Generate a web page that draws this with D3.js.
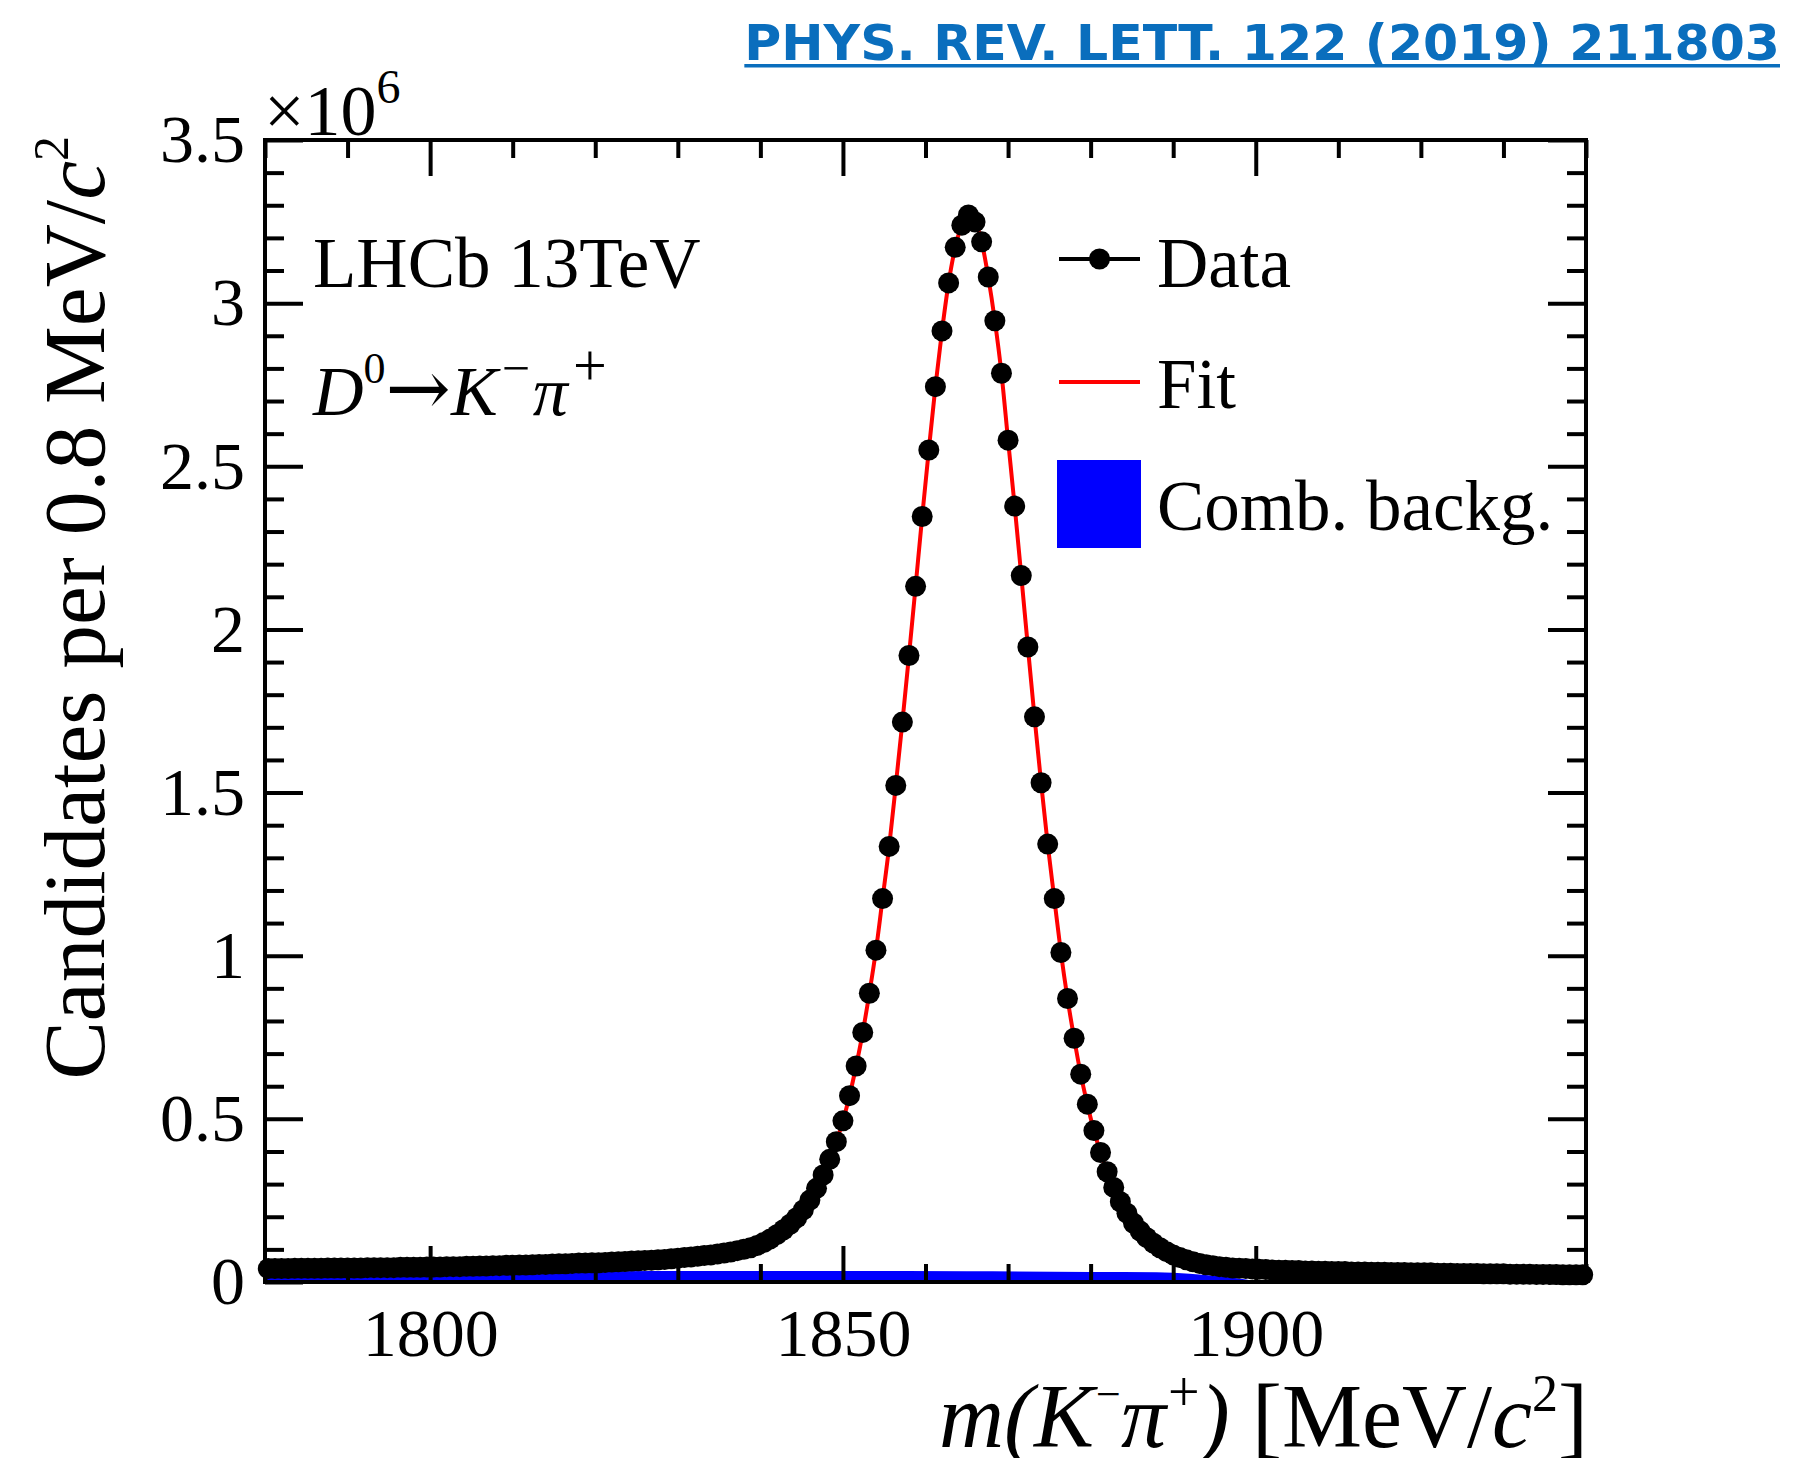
<!DOCTYPE html>
<html>
<head>
<meta charset="utf-8">
<script src="https://cdn.jsdelivr.net/npm/d3@7/dist/d3.min.js"></script>
<style>
  html, body { margin: 0; padding: 0; background: #ffffff; }
  svg { display: block; }
</style>
</head>
<body>
<svg id="chart" width="1803" height="1458"></svg>
<script>
// Histogram binning of m(K- pi+): 200 bins of 0.8 MeV/c^2 from 1780 to 1940
const massLow = 1780;
const massHigh = 1940;
const binWidth = 0.8;

// Candidates per bin, in units of 10^6
const dataCounts = [
  0.041,0.041,0.041,0.041,0.042,0.042,0.042,0.042,0.042,0.043,
  0.043,0.043,0.043,0.043,0.043,0.044,0.044,0.044,0.044,0.044,
  0.045,0.045,0.045,0.045,0.046,0.046,0.046,0.047,0.047,0.047,
  0.048,0.048,0.049,0.049,0.050,0.050,0.051,0.051,0.052,0.052,
  0.053,0.054,0.054,0.055,0.056,0.056,0.057,0.058,0.058,0.059,
  0.059,0.060,0.061,0.062,0.063,0.064,0.065,0.066,0.067,0.068,
  0.069,0.071,0.073,0.075,0.077,0.079,0.081,0.083,0.086,0.089,
  0.092,0.096,0.100,0.105,0.112,0.121,0.132,0.145,0.160,0.177,
  0.197,0.221,0.251,0.287,0.328,0.376,0.430,0.494,0.571,0.662,
  0.765,0.885,1.017,1.175,1.335,1.522,1.716,1.920,2.132,2.346,
  2.550,2.744,2.915,3.062,3.171,3.239,3.270,3.249,3.188,3.080,
  2.946,2.785,2.580,2.378,2.165,1.946,1.732,1.530,1.342,1.175,
  1.010,0.869,0.747,0.637,0.545,0.464,0.397,0.338,0.290,0.246,
  0.211,0.180,0.156,0.136,0.119,0.105,0.093,0.083,0.075,0.068,
  0.062,0.057,0.053,0.050,0.047,0.045,0.043,0.042,0.041,0.040,
  0.039,0.038,0.037,0.036,0.036,0.035,0.035,0.034,0.034,0.033,
  0.033,0.032,0.032,0.032,0.031,0.031,0.031,0.030,0.030,0.030,
  0.029,0.029,0.029,0.028,0.028,0.028,0.028,0.027,0.027,0.027,
  0.026,0.026,0.026,0.026,0.025,0.025,0.025,0.025,0.024,0.024,
  0.024,0.024,0.023,0.023,0.023,0.023,0.022,0.022,0.022,0.022
];

// Total fit model evaluated at the bin centres, in units of 10^6
const fitCounts = [
  0.041,0.041,0.041,0.041,0.042,0.042,0.042,0.042,0.042,0.043,
  0.043,0.043,0.043,0.043,0.043,0.044,0.044,0.044,0.044,0.044,
  0.045,0.045,0.045,0.045,0.046,0.046,0.046,0.047,0.047,0.047,
  0.048,0.048,0.049,0.049,0.050,0.050,0.051,0.051,0.052,0.052,
  0.053,0.054,0.054,0.055,0.056,0.056,0.057,0.058,0.058,0.059,
  0.059,0.060,0.061,0.062,0.063,0.064,0.065,0.066,0.067,0.068,
  0.069,0.071,0.073,0.075,0.077,0.079,0.081,0.083,0.086,0.089,
  0.092,0.096,0.100,0.105,0.112,0.121,0.132,0.145,0.160,0.177,
  0.197,0.221,0.251,0.287,0.328,0.376,0.430,0.494,0.571,0.662,
  0.765,0.885,1.017,1.175,1.335,1.522,1.716,1.920,2.132,2.346,
  2.550,2.744,2.915,3.062,3.171,3.239,3.268,3.250,3.188,3.080,
  2.946,2.785,2.580,2.378,2.165,1.946,1.732,1.530,1.342,1.175,
  1.010,0.869,0.747,0.637,0.545,0.464,0.397,0.338,0.290,0.246,
  0.211,0.180,0.156,0.136,0.119,0.105,0.093,0.083,0.075,0.068,
  0.062,0.057,0.053,0.050,0.047,0.045,0.043,0.042,0.041,0.040,
  0.039,0.038,0.037,0.036,0.036,0.035,0.035,0.034,0.034,0.033,
  0.033,0.032,0.032,0.032,0.031,0.031,0.031,0.030,0.030,0.030,
  0.029,0.029,0.029,0.028,0.028,0.028,0.028,0.027,0.027,0.027,
  0.026,0.026,0.026,0.026,0.025,0.025,0.025,0.025,0.024,0.024,
  0.024,0.024,0.023,0.023,0.023,0.023,0.022,0.022,0.022,0.022
];

// Combinatorial background component (units of 10^6 per bin)
const bkgMass   = [1780, 1800, 1820, 1835, 1850, 1865, 1880, 1888, 1892, 1895, 1897.5, 1899.3, 1900];
const bkgCounts = [0.030,0.031,0.033,0.034,0.034,0.033,0.031,0.030,0.025,0.019,0.012,0.005,0.000];

// Axis ticks
const xMajorTicks = [1800, 1850, 1900];
const xMinorTicks = [1780,1790,1810,1820,1830,1840,1860,1870,1880,1890,1910,1920,1930,1940];
const yMajorTicks = [0, 0.5, 1, 1.5, 2, 2.5, 3, 3.5];
const yMinorTicks = [0.1,0.2,0.3,0.4,0.6,0.7,0.8,0.9,1.1,1.2,1.3,1.4,1.6,1.7,1.8,1.9,
                     2.1,2.2,2.3,2.4,2.6,2.7,2.8,2.9,3.1,3.2,3.3,3.4];
const yTickLabels = ["0", "0.5", "1", "1.5", "2", "2.5", "3", "3.5"];
const xTickLabels = ["1800", "1850", "1900"];

const serif = "'Liberation Serif', 'Times New Roman', Times, serif";

const binCenters = dataCounts.map((_, i) => massLow + binWidth * (i + 0.5));
const dataPoints = dataCounts.map((v, i) => ({ m: binCenters[i], v }));
const fitPoints = fitCounts.map((v, i) => ({ m: binCenters[i], v }));
const bkgPoints = bkgMass.map((m, i) => ({ m, v: bkgCounts[i] }));

const plot = { left: 265, right: 1586, top: 140, bottom: 1282 };

const x = d3.scaleLinear().domain([massLow, massHigh]).range([plot.left, plot.right]);
const y = d3.scaleLinear().domain([0, 3.5]).range([plot.bottom, plot.top]);

const svg = d3.select("#chart");
svg.append("rect").attr("width", 1803).attr("height", 1458).attr("fill", "#ffffff");

// Combinatorial background
svg.append("path")
  .datum(bkgPoints)
  .attr("fill", "#0000ff")
  .attr("d", d3.area()
    .x(d => x(d.m))
    .y0(y(0))
    .y1(d => y(d.v))
    .curve(d3.curveMonotoneX));

// Fit curve
svg.append("path")
  .datum(fitPoints)
  .attr("fill", "none")
  .attr("stroke", "#ff0000")
  .attr("stroke-width", 4)
  .attr("d", d3.line()
    .x(d => x(d.m))
    .y(d => y(d.v))
    .curve(d3.curveMonotoneX));

// Axes: ticks on all four sides pointing inwards, ROOT style
function styleAxis(g) {
  g.select(".domain").remove();
  g.selectAll(".tick line").attr("stroke", "#000").attr("stroke-width", 4);
  g.attr("font-family", serif);
}

const xLabelFmt = d => xTickLabels[xMajorTicks.indexOf(d)];
const yLabelFmt = d => yTickLabels[yMajorTicks.indexOf(d)];

svg.append("g").attr("transform", `translate(0,${plot.bottom})`)
  .call(d3.axisBottom(x).tickValues(xMajorTicks).tickSize(-36).tickPadding(26).tickFormat(xLabelFmt))
  .call(styleAxis)
  .call(g => g.selectAll("text").attr("font-size", 68).attr("fill", "#000"));
svg.append("g").attr("transform", `translate(0,${plot.bottom})`)
  .call(d3.axisBottom(x).tickValues(xMinorTicks).tickSize(-18).tickFormat(""))
  .call(styleAxis);
svg.append("g").attr("transform", `translate(0,${plot.top})`)
  .call(d3.axisTop(x).tickValues(xMajorTicks).tickSize(-36).tickFormat(""))
  .call(styleAxis);
svg.append("g").attr("transform", `translate(0,${plot.top})`)
  .call(d3.axisTop(x).tickValues(xMinorTicks).tickSize(-18).tickFormat(""))
  .call(styleAxis);

svg.append("g").attr("transform", `translate(${plot.left},0)`)
  .call(d3.axisLeft(y).tickValues(yMajorTicks).tickSize(-38).tickPadding(20).tickFormat(yLabelFmt))
  .call(styleAxis)
  .call(g => g.selectAll("text").attr("font-size", 68).attr("fill", "#000"));
svg.append("g").attr("transform", `translate(${plot.left},0)`)
  .call(d3.axisLeft(y).tickValues(yMinorTicks).tickSize(-19).tickFormat(""))
  .call(styleAxis);
svg.append("g").attr("transform", `translate(${plot.right},0)`)
  .call(d3.axisRight(y).tickValues(yMajorTicks).tickSize(-38).tickFormat(""))
  .call(styleAxis);
svg.append("g").attr("transform", `translate(${plot.right},0)`)
  .call(d3.axisRight(y).tickValues(yMinorTicks).tickSize(-19).tickFormat(""))
  .call(styleAxis);

// Frame
svg.append("rect")
  .attr("x", plot.left).attr("y", plot.top)
  .attr("width", plot.right - plot.left).attr("height", plot.bottom - plot.top)
  .attr("fill", "none").attr("stroke", "#000").attr("stroke-width", 4);

// Data points
svg.append("g").selectAll("circle")
  .data(dataPoints)
  .join("circle")
  .attr("cx", d => x(d.m))
  .attr("cy", d => y(d.v))
  .attr("r", 10.5)
  .attr("fill", "#000");

// Helper to write rich text with italic / superscript runs
function richText(parent, runs, attrs) {
  const t = parent.append("text").attr("font-family", serif).attr("fill", "#000");
  Object.entries(attrs).forEach(([k, v]) => t.attr(k, v));
  let raised = 0;
  runs.forEach(r => {
    const s = t.append("tspan").text(r.t);
    if (r.it) s.attr("font-style", "italic");
    if (r.size) s.attr("font-size", r.size);
    if (r.font) s.attr("font-family", r.font);
    if (r.dx) s.attr("dx", r.dx);
    const want = r.up || 0;
    if (want !== raised) { s.attr("dy", raised - want); raised = want; }
  });
  return t;
}

// Axis titles
richText(svg, [
  { t: "m(K", it: true },
  { t: "\u2212", size: 44, up: 38, dx: 2 },
  { t: "\u03c0", it: true },
  { t: "+", size: 56, up: 36, dx: 2 },
  { t: ")", it: true },
  { t: " [MeV/" },
  { t: "c", it: true },
  { t: "2", size: 52, up: 36 },
  { t: "]" }
], { x: 1588, y: 1447, "text-anchor": "end", "font-size": 90 });

richText(svg, [
  { t: "Candidates per 0.8 MeV/" },
  { t: "c", it: true },
  { t: "2", size: 50, up: 36 }
], { transform: "translate(104,136) rotate(-90)", x: 0, y: 0, "text-anchor": "end", "font-size": 87.5 });

// Exponent of the y axis
richText(svg, [
  { t: "\u00d710" },
  { t: "6", size: 48, up: 32 }
], { x: 264, y: 135, "font-size": 72 });

// Labels inside the frame
svg.append("text").attr("x", 313).attr("y", 287)
  .attr("font-family", serif).attr("font-size", 71).text("LHCb 13TeV");

richText(svg, [
  { t: "D", it: true },
  { t: "0", size: 44, up: 32 },
  { t: "\u2192", font: "'DejaVu Serif', serif", size: 78 },
  { t: "K", it: true },
  { t: "\u2212", size: 50, up: 30, dx: 4 },
  { t: "\u03c0", it: true, dx: 3 },
  { t: "+", size: 60, up: 30, dx: 5 }
], { x: 313, y: 415, "font-size": 70 });

// Legend
const legend = svg.append("g");
legend.append("line").attr("x1", 1059).attr("x2", 1140).attr("y1", 259).attr("y2", 259)
  .attr("stroke", "#000").attr("stroke-width", 4);
legend.append("circle").attr("cx", 1099.5).attr("cy", 259).attr("r", 10.5).attr("fill", "#000");
legend.append("text").attr("x", 1157).attr("y", 287).attr("font-family", serif).attr("font-size", 71).text("Data");

legend.append("line").attr("x1", 1059).attr("x2", 1140).attr("y1", 382).attr("y2", 382)
  .attr("stroke", "#ff0000").attr("stroke-width", 4);
legend.append("text").attr("x", 1157).attr("y", 408).attr("font-family", serif).attr("font-size", 71).text("Fit");

legend.append("rect").attr("x", 1057).attr("y", 460).attr("width", 84).attr("height", 88).attr("fill", "#0000ff");
legend.append("text").attr("x", 1157).attr("y", 530).attr("font-family", serif).attr("font-size", 71).text("Comb. backg.");

// Publication reference
const ref = svg.append("text").attr("x", 1780).attr("y", 60).attr("text-anchor", "end")
  .attr("font-family", "'DejaVu Sans', Verdana, sans-serif").attr("font-weight", "bold")
  .attr("font-size", 50.5).attr("fill", "#0a6ebd")
  .text("PHYS. REV. LETT. 122 (2019) 211803");
const bb = ref.node().getBBox();
svg.append("rect").attr("x", bb.x).attr("y", 64).attr("width", bb.width).attr("height", 3.5).attr("fill", "#0a6ebd");
</script>
</body>
</html>
